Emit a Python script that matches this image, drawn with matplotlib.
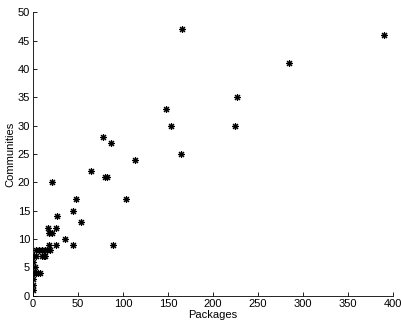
import matplotlib
matplotlib.use("Agg")
import matplotlib.pyplot as plt

# packages vs communities
packages = [166, 390, 284, 227, 148, 153, 225, 78, 87, 113, 164, 80, 82, 103,
            65, 21, 48, 45, 27, 53, 17, 26, 18, 21, 36, 18, 26, 45, 89,
            4, 7, 10, 13, 16, 19, 1, 3, 10, 12, 14, 0, 2, 1, 3, 4, 6, 8, 0, 0, 0]
communities = [47, 46, 41, 35, 33, 30, 30, 28, 27, 24, 25, 21, 21, 17,
               22, 20, 17, 15, 14, 13, 12, 12, 11, 11, 10, 9, 9, 9, 9,
               8, 8, 8, 8, 8, 8, 7, 7, 7, 7, 7, 6, 5, 4, 4, 4, 4, 4, 3, 2, 1]

plt.rcParams['font.family'] = ['Liberation Sans', 'DejaVu Sans']
plt.rcParams['font.size'] = 8

fig = plt.figure(figsize=(4.01, 3.28), dpi=100)
ax = fig.add_axes([0.082, 0.098, 0.898, 0.865])
ax.plot(packages, communities, linestyle='none', marker=(8, 2, 0),
        markersize=5, markeredgewidth=0.8, color='black')

ax.set_xlim(0, 400)
ax.set_ylim(0, 50)
ax.set_xticks(range(0, 401, 50))
ax.set_yticks(range(0, 51, 5))
ax.tick_params(direction='in', length=3, width=0.6, pad=2)
ax.spines['top'].set_visible(False)
ax.spines['right'].set_visible(False)
for s in ('left', 'bottom'):
    ax.spines[s].set_linewidth(0.6)
ax.set_xlabel("Packages", labelpad=1)
ax.set_ylabel("Communities", labelpad=2)

fig.savefig("out.png", dpi=100)
